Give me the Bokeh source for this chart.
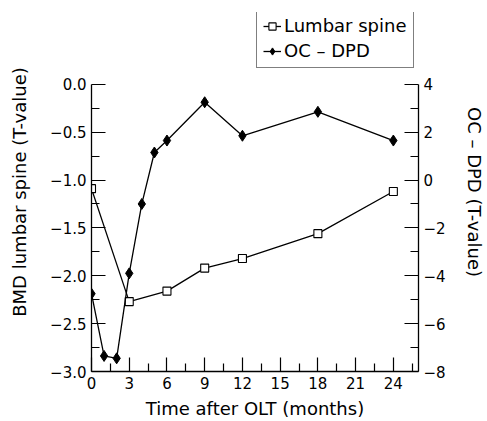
from bokeh.plotting import figure
from bokeh.models import (LinearAxis, Range1d, FixedTicker, CustomJSTickFormatter,
                          Legend, LegendItem)
from bokeh.embed import file_html
from bokeh.resources import INLINE

# Data
months_spine = [0, 3, 6, 9, 12, 18, 24]
bmd_spine = [-1.09, -2.27, -2.16, -1.92, -1.82, -1.56, -1.12]

months_oc = [0, 1, 2, 3, 4, 5, 6, 9, 12, 18, 24]
oc_dpd = [-4.75, -7.35, -7.45, -3.9, -1.0, 1.15, 1.65, 3.25, 1.85, 2.85, 1.65]

x_ticks = [0, 3, 6, 9, 12, 15, 18, 21, 24]
x_minor = [1.5, 4.5, 7.5, 10.5, 13.5, 16.5, 19.5, 22.5, 25.5]
left_ticks = [-3.0, -2.5, -2.0, -1.5, -1.0, -0.5, 0.0]
left_minor = [-2.75, -2.25, -1.75, -1.25, -0.75, -0.25]
right_ticks = [-8, -6, -4, -2, 0, 2, 4]
right_minor = [-7, -5, -3, -1, 1, 3]

FONT = "DejaVu Sans"

p = figure(width=487, height=421, output_backend="svg", toolbar_location=None,
           x_range=Range1d(0, 26), y_range=Range1d(-3, 0.75),
           min_border_left=91, min_border_right=68, min_border_top=12,
           min_border_bottom=50, x_axis_location=None, y_axis_location=None)
p.extra_y_ranges = {"oc": Range1d(-8, 7)}
p.outline_line_color = None
p.grid.visible = False
p.background_fill_color = "white"
p.border_fill_color = "white"


def style_axis(ax):
    ax.axis_line_color = "black"
    ax.axis_line_width = 1.3
    ax.major_tick_line_color = "black"
    ax.minor_tick_line_color = "black"
    ax.major_tick_line_width = 1.2
    ax.minor_tick_line_width = 1.2
    ax.major_tick_in = 14
    ax.major_tick_out = 0
    ax.minor_tick_in = 8
    ax.minor_tick_out = 0
    ax.major_label_text_font = FONT
    ax.major_label_text_font_size = "15px"
    ax.major_label_text_color = "black"
    ax.axis_label_text_font = FONT
    ax.axis_label_text_font_size = "18px"
    ax.axis_label_text_font_style = "normal"
    ax.axis_label_text_color = "black"
    ax.major_label_standoff = 5


xaxis = LinearAxis(axis_label="Time after OLT (months)",
                   ticker=FixedTicker(ticks=x_ticks, minor_ticks=x_minor))
style_axis(xaxis)
xaxis.axis_label_standoff = 6
p.add_layout(xaxis, "below")

laxis = LinearAxis(axis_label="BMD lumbar spine (T-value)", bounds=(-3, 0),
                   ticker=FixedTicker(ticks=left_ticks, minor_ticks=left_minor),
                   formatter=CustomJSTickFormatter(code="return tick.toFixed(1).replace('-', '\u2212');"))
style_axis(laxis)
laxis.axis_label_standoff = 17
p.add_layout(laxis, "left")

raxis = LinearAxis(axis_label="OC \u2013 DPD (T-value)", y_range_name="oc", bounds=(-8, 4),
                   ticker=FixedTicker(ticks=right_ticks, minor_ticks=right_minor),
                   formatter=CustomJSTickFormatter(code="return String(tick).replace('-', '\u2212');"))
style_axis(raxis)
raxis.axis_label_standoff = 15
p.add_layout(raxis, "right")

l1 = p.line(months_spine, bmd_spine, line_color="black", line_width=1.3)
s1 = p.scatter(months_spine, bmd_spine, marker="square", size=8,
               fill_color="white", line_color="black", line_width=1.1)
l2 = p.line(months_oc, oc_dpd, line_color="black", line_width=1.3, y_range_name="oc")
s2 = p.scatter(months_oc, oc_dpd, marker="diamond", size=11,
               fill_color="black", line_color="black", y_range_name="oc")

legend = Legend(items=[LegendItem(label="Lumbar spine", renderers=[l1, s1]),
                       LegendItem(label="OC \u2013 DPD", renderers=[l2, s2])],
                location=(165, 303))
legend.border_line_color = "black"
legend.border_line_width = 1.2
legend.background_fill_color = "white"
legend.label_text_font = FONT
legend.label_text_font_size = "18px"
legend.label_text_color = "black"
legend.glyph_width = 18
legend.label_standoff = 3
legend.padding = 6
legend.spacing = 4
legend.margin = 0
p.add_layout(legend, "center")

open("out.html", "w").write(file_html(p, INLINE))
